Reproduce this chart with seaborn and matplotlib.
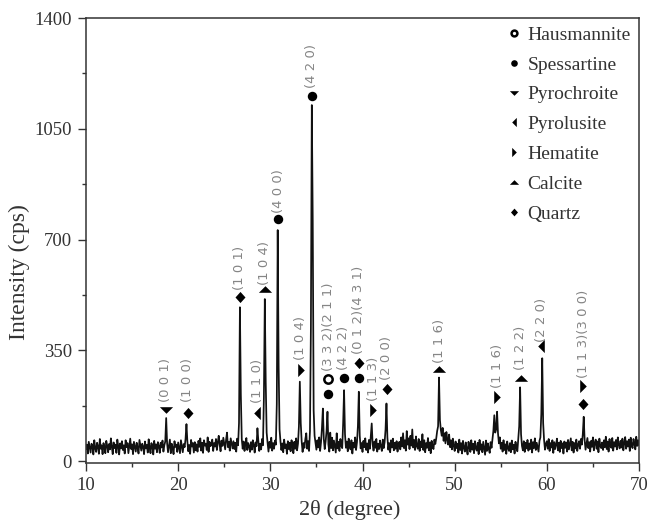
import numpy as np
import pandas as pd
import seaborn as sns
import matplotlib.pyplot as plt
from matplotlib.lines import Line2D

# ---- XRD scan: 2-theta from 10 to 70 deg, step 0.1 deg ----
two_theta = np.round(np.arange(10.0, 70.05, 0.1), 1)

counts = [
    38, 52, 24, 61, 44, 27, 55, 48, 21, 66, 41, 29, 58, 46, 23, 70, 39, 50, 22, 57,    # 10-12
    43, 25, 64, 49, 28, 54, 37, 72, 45, 22, 59, 41, 52, 26, 68, 47, 21, 56, 40, 63,    # 12-14
    35, 50, 24, 66, 44, 57, 25, 48, 71, 38, 53, 22, 61, 45, 30, 58, 42, 24, 67, 49,    # 14-16
    33, 55, 46, 22, 62, 40, 51, 27, 69, 44, 25, 57, 48, 21, 64, 39, 53, 28, 60, 47,    # 16-18
    26, 58, 43, 65, 30, 50, 62, 136, 56, 28, 47, 68, 25, 55, 41, 22, 63, 45, 52, 29,   # 18-20
    59, 42, 25, 66, 48, 28, 54, 44, 70, 117, 62, 31, 51, 23, 67, 46, 57, 27, 60, 34,   # 20-22
    53, 30, 64, 45, 72, 33, 58, 26, 66, 49, 55, 35, 75, 29, 61, 47, 52, 68, 32, 57,    # 22-24
    46, 70, 35, 59, 80, 52, 31, 65, 48, 74, 56, 37, 68, 90, 44, 61, 33, 72, 55, 40,    # 24-26
    63, 38, 58, 30, 71, 50, 120, 486, 210, 70, 39, 62, 32, 55, 73, 35, 57, 48, 29, 60, # 26-28
    36, 66, 51, 27, 59, 47, 104, 64, 32, 55, 37, 70, 50, 200, 512, 250, 90, 58, 30, 61,  # 28-30
    42, 74, 33, 57, 39, 65, 52, 180, 730, 300, 100, 62, 35, 56, 28, 68, 41, 53, 23, 63,  # 30-32
    38, 58, 31, 66, 50, 25, 61, 39, 72, 34, 55, 110, 251, 120, 62, 29, 57, 42, 70, 88,   # 32-34
    39, 63, 32, 95, 420, 1125, 760, 160, 80, 57, 36, 66, 43, 75, 32, 60, 105, 166, 70, 38,  # 34-36
    62, 95, 156, 52, 30, 90, 41, 74, 34, 65, 46, 27, 88, 40, 61, 32, 70, 49, 41, 120,  # 36-38
    224, 85, 42, 62, 31, 71, 48, 37, 66, 24, 58, 43, 75, 35, 60, 110, 219, 80, 40, 57, # 38-40
    29, 64, 44, 72, 35, 56, 27, 67, 39, 80, 119, 52, 33, 62, 42, 70, 30, 55, 38, 65,   # 40-42
    46, 32, 68, 41, 60, 100, 182, 75, 36, 57, 28, 66, 43, 71, 34, 58, 39, 63, 30, 54,  # 42-44
    61, 37, 75, 46, 88, 41, 66, 33, 95, 52, 72, 38, 80, 49, 100, 43, 67, 35, 78, 47,   # 44-46
    39, 70, 32, 62, 44, 85, 35, 66, 28, 57, 42, 73, 34, 59, 25, 64, 46, 38, 68, 54,    # 46-48
    72, 95, 110, 264, 130, 98, 80, 105, 64, 88, 56, 92, 69, 52, 84, 44, 66, 37, 71, 49,  # 48-50
    32, 62, 41, 55, 27, 68, 35, 57, 24, 64, 43, 30, 59, 38, 21, 61, 46, 29, 66, 36,    # 50-52
    55, 25, 63, 40, 33, 58, 22, 67, 36, 53, 28, 61, 41, 20, 65, 32, 56, 38, 26, 60,    # 52-54
    42, 70, 96, 145, 90, 100, 156, 88, 56, 75, 39, 58, 30, 66, 35, 53, 23, 62, 41, 32, # 54-56
    57, 28, 65, 37, 52, 24, 61, 42, 31, 70, 110, 233, 85, 48, 34, 63, 29, 58, 40, 67,  # 56-58
    33, 56, 38, 68, 27, 60, 41, 72, 35, 58, 44, 30, 64, 75, 150, 325, 120, 66, 36, 55, # 58-60
    63, 39, 70, 32, 57, 43, 66, 26, 60, 38, 53, 71, 34, 58, 29, 64, 41, 56, 24, 62,    # 60-62
    42, 59, 30, 67, 37, 54, 72, 34, 61, 27, 57, 40, 68, 32, 52, 63, 39, 70, 52, 85,    # 62-64
    140, 66, 36, 55, 73, 41, 60, 30, 64, 45, 75, 34, 58, 68, 39, 62, 28, 71, 47, 41,   # 64-66
    59, 35, 66, 44, 77, 38, 62, 30, 70, 49, 42, 73, 33, 60, 46, 67, 37, 75, 51, 40,    # 66-68
    64, 43, 71, 34, 58, 76, 39, 63, 46, 68, 32, 74, 50, 41, 70, 55, 37, 77, 48, 66,    # 68-70
    50,
]

# ---- phase identification marks (2-theta, height) ----
phase_names = ["Hausmannite", "Spessartine", "Pyrochroite", "Pyrolusite",
               "Hematite", "Calcite", "Quartz"]
hausmannite_x = [36.28]
hausmannite_y = [261]
spessartine_x = [30.86, 34.51, 36.28, 37.98, 39.61]
spessartine_y = [764, 1154, 211, 263, 263]
pyrochroite_x = [18.68]
pyrochroite_y = [161]
pyrolusite_x = [28.58, 59.42]
pyrolusite_y = [151, 364]
hematite_x = [33.32, 41.16, 54.61, 63.94]
hematite_y = [288, 161, 201, 237]
calcite_x = [29.41, 48.32, 57.15]
calcite_y = [543, 291, 264]
quartz_x = [21.03, 26.70, 39.61, 42.61, 63.94]
quartz_y = [153, 519, 311, 227, 179]

# ---- Miller indices written above the peaks ----
hkl_text = ["(0 0 1)", "(1 0 0)", "(1 0 1)", "(1 1 0)", "(1 0 4)", "(4 0 0)",
            "(4 2 0)", "(1 0 4)", "(3 3 2)(2 1 1)", "(4 2 2)", "(0 1 2)(4 3 1)",
            "(1 1 3)", "(2 0 0)", "(1 1 6)", "(1 1 6)", "(1 2 2)", "(2 2 0)",
            "(1 1 3)(3 0 0)"]
hkl_x = [18.68, 21.03, 26.70, 28.58, 29.41, 30.86, 34.51, 33.32, 36.28, 37.98,
         39.61, 41.16, 42.61, 48.32, 54.61, 57.15, 59.42, 63.94]
hkl_y = [187, 187, 540, 183, 556, 783, 1178, 319, 285, 288, 340, 190, 256,
         309, 230, 288, 377, 262]

# ---- marker styles ----
tri_down = [(-1, 0.5), (1, 0.5), (0, -0.5), (-1, 0.5)]
tri_up = [(-1, -0.5), (1, -0.5), (0, 0.5), (-1, -0.5)]
tri_left = [(0.5, -1), (0.5, 1), (-0.5, 0), (0.5, -1)]
tri_right = [(-0.5, -1), (-0.5, 1), (0.5, 0), (-0.5, -1)]
diamond = [(0, 1), (0.9, 0), (0, -1), (-0.9, 0), (0, 1)]

styles = {
    "Hausmannite": dict(marker="o", ms=6.0, mfc="white", mec="black", mew=1.8),
    "Spessartine": dict(marker="o", ms=6.8, mfc="black", mec="black", mew=0),
    "Pyrochroite": dict(marker=tri_down, ms=9.5, mfc="black", mec="black", mew=0),
    "Pyrolusite": dict(marker=tri_left, ms=9.5, mfc="black", mec="black", mew=0),
    "Hematite": dict(marker=tri_right, ms=9.5, mfc="black", mec="black", mew=0),
    "Calcite": dict(marker=tri_up, ms=9.5, mfc="black", mec="black", mew=0),
    "Quartz": dict(marker=diamond, ms=8.0, mfc="black", mec="black", mew=0),
}
positions = {
    "Hausmannite": (hausmannite_x, hausmannite_y),
    "Spessartine": (spessartine_x, spessartine_y),
    "Pyrochroite": (pyrochroite_x, pyrochroite_y),
    "Pyrolusite": (pyrolusite_x, pyrolusite_y),
    "Hematite": (hematite_x, hematite_y),
    "Calcite": (calcite_x, calcite_y),
    "Quartz": (quartz_x, quartz_y),
}

sns.set_style("ticks")
plt.rcParams["font.family"] = ["Liberation Serif", "DejaVu Serif"]

fig = plt.figure(figsize=(6.5, 5.24), dpi=100)
ax = fig.add_axes([0.1323, 0.1164, 0.8508, 0.8492])

scan = pd.DataFrame({"two_theta": two_theta, "counts": counts})
sns.lineplot(data=scan, x="two_theta", y="counts", ax=ax, color="#111111",
             linewidth=1.25, estimator=None, sort=False)

for name in phase_names:
    xs, ys = positions[name]
    ax.plot(xs, ys, linestyle="none", **styles[name])

for txt, x, y in zip(hkl_text, hkl_x, hkl_y):
    ax.text(x, y, txt, rotation=90, ha="center", va="bottom", fontsize=9.5,
            color="#858585", family="DejaVu Sans")

ax.set_xlim(10, 70)
ax.set_ylim(-6, 1400)
ax.set_xticks([10, 20, 30, 40, 50, 60, 70])
ax.set_xticks(np.arange(15, 70, 10), minor=True)
ax.set_yticks([0, 350, 700, 1050, 1400])
ax.set_yticks([175, 525, 875, 1225], minor=True)
ax.tick_params(axis="both", which="major", direction="out", length=6, width=1,
               color="#333333", labelsize=13.5, labelcolor="#333333", pad=4)
ax.tick_params(axis="both", which="minor", direction="out", length=3, width=1,
               color="#333333")
for side in ["top", "right", "bottom", "left"]:
    ax.spines[side].set_visible(True)
    ax.spines[side].set_linewidth(1.1)
    ax.spines[side].set_color("#333333")

ax.set_xlabel("2θ (degree)", fontsize=16, color="#333333")
ax.set_ylabel("Intensity (cps)", fontsize=17, color="#333333")
ax.xaxis.set_label_coords(0.477, -0.084)
ax.yaxis.set_label_coords(-0.102, 0.43)

handles = [Line2D([], [], linestyle="none", **styles[n]) for n in phase_names]
ax.legend(handles, phase_names, loc="upper left", bbox_to_anchor=(0.756, 0.982),
          frameon=False, fontsize=14, markerscale=0.7, handlelength=1.0,
          handletextpad=0.2, borderpad=0, borderaxespad=0, labelspacing=0.63,
          labelcolor="#333333")

fig.savefig("out.png", dpi=100, facecolor="white")
